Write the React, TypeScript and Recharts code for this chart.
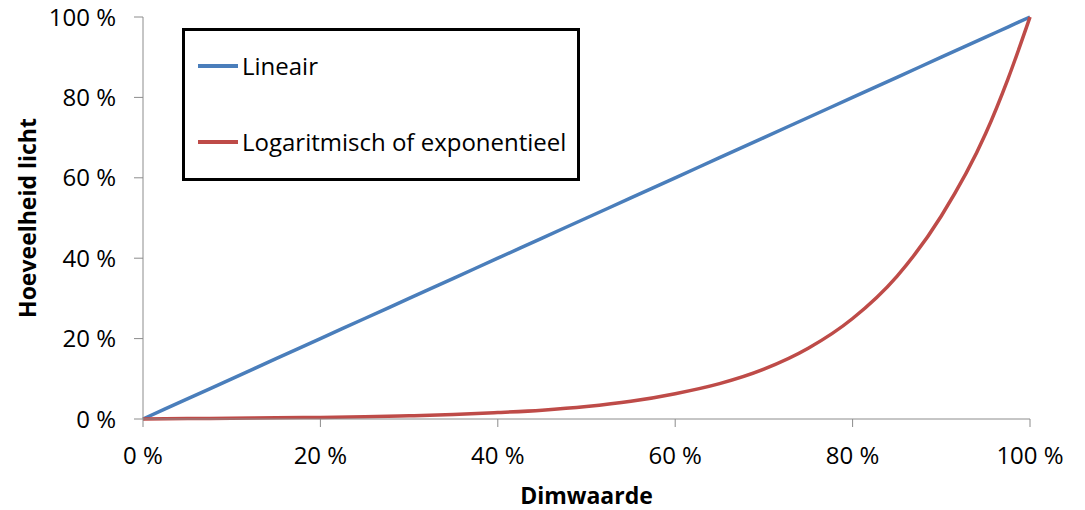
import React from 'react';
import { LineChart, Line, XAxis, YAxis } from 'recharts';

const dimValues = [0, 5, 10, 15, 20, 25, 30, 35, 40, 45, 50, 55, 60, 65, 70, 75, 80, 85, 90, 95, 97.5, 100];
const linearValues = [0, 5, 10, 15, 20, 25, 30, 35, 40, 45, 50, 55, 60, 65, 70, 75, 80, 85, 90, 95, 97.5, 100];
const expValues = [0, 0.1, 0.2, 0.3, 0.4, 0.55, 0.8, 1.1, 1.6, 2.2, 3.1, 4.4, 6.3, 8.8, 12.4, 17.6, 25, 35.5, 50.5, 71, 84.5, 100];
const tickValues = [0, 20, 40, 60, 80, 100];
const seriesNames = ['Lineair', 'Logaritmisch of exponentieel'];
const seriesColors = ['#4a7ebb', '#be4b48'];

const data = dimValues.map((d, i) => ({ dim: d, lin: linearValues[i], exp: expValues[i] }));

const FONT = '"Open Sans", sans-serif';
const AXIS_COLOR = '#8c8c8c';

const pct = (v: number) => `${v} %`;

const LegendBox = () => (
  <div
    style={{
      position: 'absolute',
      left: 182,
      top: 28,
      width: 398,
      height: 153,
      border: '3px solid #000',
      boxSizing: 'border-box',
      background: '#fff',
      fontFamily: FONT,
      fontSize: 24,
      color: '#000',
    }}
  >
    {seriesNames.map((name, i) => (
      <div
        key={name}
        style={{
          position: 'absolute',
          left: 13,
          top: (i === 0 ? 35 : 111) - 17,
          height: 34,
          display: 'flex',
          alignItems: 'center',
          whiteSpace: 'nowrap',
        }}
      >
        <span style={{ display: 'inline-block', width: 40, height: 4, background: seriesColors[i], marginRight: 4 }} />
        <span style={{ lineHeight: '34px' }}>{name}</span>
      </div>
    ))}
  </div>
);

const YTitle = (props: any) => {
  const vb = props.viewBox || { x: 0, y: 17, width: 143, height: 402 };
  const x = vb.x + 27;
  const y = vb.y + vb.height / 2;
  return (
    <text
      x={x}
      y={y}
      transform={`rotate(-90, ${x}, ${y})`}
      textAnchor="middle"
      dominantBaseline="central"
      fontFamily={FONT}
      fontWeight="bold"
      fontSize={23}
      fill="#000"
    >
      Hoeveelheid licht
    </text>
  );
};

const XTitle = (props: any) => {
  const vb = props.viewBox || { x: 143, y: 419, width: 887, height: 91 };
  const x = vb.x + vb.width / 2;
  const y = vb.y + 76;
  return (
    <text x={x} y={y} textAnchor="middle" dominantBaseline="central" fontFamily={FONT} fontWeight="bold" fontSize={23} fill="#000">
      Dimwaarde
    </text>
  );
};

export default function App() {
  return (
    <div style={{ position: 'absolute', left: 0, top: 0, width: 1085, height: 510, background: '#fff' }}>
      <LineChart width={1085} height={510} data={data} margin={{ top: 17, right: 55, left: 0, bottom: 0 }}>
        <XAxis
          dataKey="dim"
          type="number"
          domain={[0, 100]}
          ticks={tickValues}
          tickFormatter={pct}
          height={91}
          stroke={AXIS_COLOR}
          tickSize={8}
          tickMargin={20}
          tick={{ fill: '#000', fontFamily: FONT, fontSize: 24 }}
          label={{ content: XTitle }}
        />
        <YAxis
          type="number"
          domain={[0, 100]}
          ticks={tickValues}
          tickFormatter={pct}
          width={143}
          stroke={AXIS_COLOR}
          tickSize={9}
          tickMargin={18}
          tick={{ fill: '#000', fontFamily: FONT, fontSize: 24 }}
          label={{ content: YTitle }}
        />
        <Line type="monotone" dataKey="lin" name={seriesNames[0]} stroke={seriesColors[0]} strokeWidth={3.5} dot={false} isAnimationActive={false} />
        <Line type="monotone" dataKey="exp" name={seriesNames[1]} stroke={seriesColors[1]} strokeWidth={3.5} dot={false} isAnimationActive={false} />
      </LineChart>
      <LegendBox />
    </div>
  );
}
